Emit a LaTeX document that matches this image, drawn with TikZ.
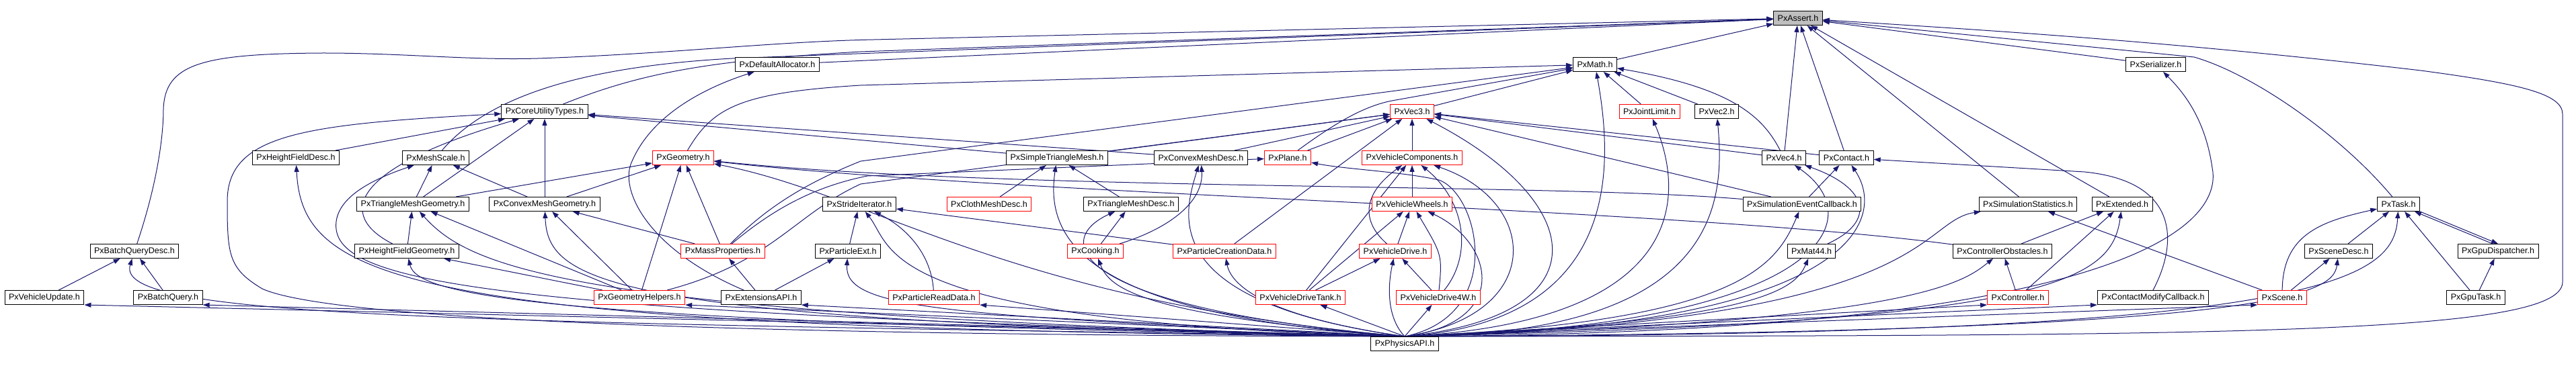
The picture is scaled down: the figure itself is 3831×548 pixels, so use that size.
\documentclass[tikz,border=0pt]{standalone}
\usepackage{fontspec}
\setmainfont{Liberation Sans}
\usetikzlibrary{arrows.meta}
\definecolor{edgec}{RGB}{25,25,112}
\pgfdeclarelayer{back}
\pgfdeclarelayer{bg}
\pgfsetlayers{back,bg,main}
\begin{document}
\begin{tikzpicture}[x=0.75pt,y=-0.75pt,
  hdr/.style={draw=black, fill=white, line width=0.75pt, inner xsep=4.5pt, inner ysep=0pt, minimum height=15.75pt, font=\fontsize{9.4}{11}\selectfont},
  trunc/.style={hdr, draw=red},
  dep/.style={draw=edgec, line width=0.75pt, -{Triangle[length=7.5pt,width=5.25pt]}}]
\begin{pgfonlayer}{back}
\fill[white] (0,0) rectangle (3831,548);
\end{pgfonlayer}
\useasboundingbox (0,0) rectangle (3831,548);
% nodes
\node[hdr,fill=black!25] (A) at (2674,27) {PxAssert.h};
\node[hdr] (DA) at (1156,96) {PxDefaultAllocator.h};
\node[hdr] (M) at (2372,96) {PxMath.h};
\node[hdr] (SER) at (3206,96) {PxSerializer.h};
\node[hdr] (CUT) at (810,166) {PxCoreUtilityTypes.h};
\node[trunc] (V3) at (2100,166) {PxVec3.h};
\node[trunc] (JL) at (2453,166) {PxJointLimit.h};
\node[hdr] (V2) at (2553,166) {PxVec2.h};
\node[hdr] (HFD) at (440,235) {PxHeightFieldDesc.h};
\node[hdr] (MS) at (648,235) {PxMeshScale.h};
\node[trunc] (G) at (1016,235) {PxGeometry.h};
\node[hdr] (STM) at (1572,235) {PxSimpleTriangleMesh.h};
\node[hdr] (CMD) at (1786,235) {PxConvexMeshDesc.h};
\node[trunc] (PL) at (1915,235) {PxPlane.h};
\node[trunc] (VC) at (2100,235) {PxVehicleComponents.h};
\node[hdr] (V4) at (2653,235) {PxVec4.h};
\node[hdr] (CON) at (2746,235) {PxContact.h};
\node[hdr] (TMG) at (614,304) {PxTriangleMeshGeometry.h};
\node[hdr] (CMG) at (810,304) {PxConvexMeshGeometry.h};
\node[hdr] (SI) at (1278,304) {PxStrideIterator.h};
\node[trunc] (CLM) at (1471,304) {PxClothMeshDesc.h};
\node[hdr] (TMD) at (1682,304) {PxTriangleMeshDesc.h};
\node[trunc] (VW) at (2100,304) {PxVehicleWheels.h};
\node[hdr] (SEC) at (2680,304) {PxSimulationEventCallback.h};
\node[hdr] (SS) at (3016,304) {PxSimulationStatistics.h};
\node[hdr] (EXT) at (3156,304) {PxExtended.h};
\node[hdr] (T) at (3567,304) {PxTask.h};
\node[hdr] (BQD) at (200,374) {PxBatchQueryDesc.h};
\node[hdr] (HFG) at (605,374) {PxHeightFieldGeometry.h};
\node[trunc] (MP) at (1075,374) {PxMassProperties.h};
\node[hdr] (PE) at (1261,374) {PxParticleExt.h};
\node[trunc] (COOK) at (1629,374) {PxCooking.h};
\node[trunc] (PCD) at (1821,374) {PxParticleCreationData.h};
\node[trunc] (VD) at (2075,374) {PxVehicleDrive.h};
\node[hdr] (M44) at (2694,374) {PxMat44.h};
\node[hdr] (CO) at (2978,374) {PxControllerObstacles.h};
\node[hdr] (SD) at (3478,374) {PxSceneDesc.h};
\node[hdr] (GD) at (3715,374) {PxGpuDispatcher.h};
\node[hdr] (VU) at (66,443) {PxVehicleUpdate.h};
\node[hdr] (BQ) at (250,443) {PxBatchQuery.h};
\node[trunc] (GH) at (951,443) {PxGeometryHelpers.h};
\node[hdr] (EA) at (1132,443) {PxExtensionsAPI.h};
\node[trunc] (PRD) at (1389,443) {PxParticleReadData.h};
\node[trunc] (VDT) at (1934,443) {PxVehicleDriveTank.h};
\node[trunc] (VD4) at (2139,443) {PxVehicleDrive4W.h};
\node[trunc] (CTRL) at (3001,443) {PxController.h};
\node[hdr] (CMC) at (3202,443) {PxContactModifyCallback.h};
\node[trunc] (SC) at (3394,443) {PxScene.h};
\node[hdr] (GT) at (3682,443) {PxGpuTask.h};
\node[hdr] (P) at (2089,512) {PxPhysicsAPI.h};
\begin{pgfonlayer}{bg}
% ---- edges from PxPhysicsAPI.h
\draw[dep] (P.north) -- (VU.south east);
\draw[dep] (P.north) -- (BQ.south east);
\draw[dep] (P.north) -- (GH.south east);
\draw[dep] (P.north) -- (EA.south east);
\draw[dep] (P.north) -- (PRD.south east);
\draw[dep] (P.north) -- (VDT);
\draw[dep] (P.north) -- (VD4);
\draw[dep] (P.north) -- (CTRL.south west);
\draw[dep] (P.north) -- (CMC.south west);
\draw[dep] (P.north) -- (SC.south west);
\draw[dep] (P.north) .. controls (600,480) and (170,470) .. (BQD);
\draw[dep] (P.north) .. controls (1200,500) and (500,480) .. (390,430) .. controls (340,400) and (338,380) .. (338,300) .. controls (338,200) and (450,185) .. (CUT);
\draw[dep] (P.north) .. controls (600,490) and (450,420) .. (HFD);
\draw[dep] (P.north) .. controls (700,465) and (490,420) .. (500,330) .. controls (505,290) and (560,265) .. (MS);
\draw[dep] (P.north) .. controls (800,480) and (620,440) .. (HFG);
\draw[dep] (P.north) .. controls (850,470) and (700,400) .. (TMG);
\draw[dep] (P.north) .. controls (900,480) and (815,420) .. (CMG);
\draw[dep] (P.north) .. controls (1500,450) and (1300,290) .. (G);
\draw[dep] (P.north) .. controls (1400,470) and (1255,460) .. (PE);
\draw[dep] (P.north) .. controls (1300,480) and (1330,370) .. (SI);
\draw[dep] (P.north) .. controls (1600,470) and (1555,350) .. (STM);
\draw[dep] (P.north) .. controls (1600,460) and (1560,360) .. (TMD);
\draw[dep] (P.north) .. controls (1700,470) and (1650,430) .. (COOK);
\draw[dep] (P.north) .. controls (1720,450) and (1760,320) .. (CMD);
\draw[dep] (P.north) .. controls (1870,470) and (1830,420) .. (PCD);
\draw[dep] (P.north) .. controls (2060,470) and (2065,420) .. (VD);
\draw[dep] (P.north) .. controls (2250,480) and (2220,360) .. (VW);
\draw[dep] (P.north) .. controls (2240,470) and (2200,290) .. (2140,268) .. controls (2080,255) and (2000,252) .. (PL);
\draw[dep] (P.north) .. controls (2300,470) and (2290,300) .. (VC);
\draw[dep] (P.north) .. controls (2390,470) and (2360,300) .. (V3);
\draw[dep] (P.north) .. controls (2410,480) and (2400,250) .. (M);
\draw[dep] (P.north) .. controls (2500,480) and (2510,300) .. (JL);
\draw[dep] (P.north) .. controls (2560,500) and (2565,300) .. (V2);
\draw[dep] (P.north) .. controls (2700,490) and (2790,330) .. (V4);
\draw[dep] (P.north) .. controls (2750,490) and (2810,330) .. (CON);
\draw[dep] (P.north) .. controls (2620,480) and (2670,430) .. (M44);
\draw[dep] (P.north) .. controls (2580,480) and (2640,400) .. (SEC);
\draw[dep] (P.north) .. controls (2880,480) and (2850,330) .. (SS);
\draw[dep] (P.north) .. controls (2850,480) and (2920,420) .. (CO);
\draw[dep] (P.north) .. controls (3050,480) and (3140,420) .. (EXT);
\draw[dep] (P.north) .. controls (3380,495) and (3470,440) .. (SD);
\draw[dep] (P.north) .. controls (3450,500) and (3560,420) .. (T);
\draw[dep] (P.north) .. controls (3280,495) and (3300,300) .. (3290,250) .. controls (3280,180) and (3250,140) .. (SER);
\draw[dep] (P.north) .. controls (3300,500) and (3811,500) .. (3811,420) -- (3811,170) .. controls (3811,140) and (3750,125) .. (3600,105) .. controls (3200,58) and (2900,42) .. (A);
% ---- other edges
\draw[dep] (BQD) .. controls (235,270) and (243,200) .. (243,163) .. controls (245,95) and (300,80) .. (480,79) .. controls (600,79) and (700,90) .. (800,87) .. controls (1000,80) and (1150,62) .. (1300,59) -- (A);
\draw[dep] (VU) -- (BQD);
\draw[dep] (BQ) -- (BQD);
\draw[dep] (HFD) -- (CUT);
\draw[dep] (HFG) .. controls (500,320) and (520,250) .. (CUT);
\draw[dep] (HFG) -- (TMG);
\draw[dep] (TMG) -- (MS);
\draw[dep] (TMG) -- (CUT);
\draw[dep] (TMG) -- (G);
\draw[dep] (CMG) -- (MS);
\draw[dep] (CMG) -- (CUT);
\draw[dep] (CMG) -- (G);
\draw[dep] (MS) .. controls (720,150) and (850,100) .. (1089,87) -- (A);
\draw[dep] (CUT) .. controls (950,110) and (1050,90) .. (1280,77) -- (A);
\draw[dep] (DA) -- (A);
\draw[dep] (M) -- (A);
\draw[dep] (G) .. controls (1060,160) and (1100,138) .. (1280,127) -- (M);
\draw[dep] (GH) -- (TMG);
\draw[dep] (GH) -- (HFG);
\draw[dep] (GH) -- (CMG);
\draw[dep] (GH) -- (G);
\draw[dep] (GH) .. controls (1150,390) and (1180,320) .. (1280,274) -- (V3);
\draw[dep] (MP) -- (CMG);
\draw[dep] (MP) -- (G);
\draw[dep] (MP) .. controls (1130,320) and (1180,280) .. (1280,240) -- (M);
\draw[dep] (MP) .. controls (1140,320) and (1200,280) .. (1290,262) -- (PL);
\draw[dep] (EA) .. controls (960,370) and (920,280) .. (940,240) .. controls (970,170) and (1050,130) .. (DA);
\draw[dep] (EA) -- (MP);
\draw[dep] (EA) -- (PE);
\draw[dep] (PE) -- (SI);
\draw[dep] (PRD) .. controls (1385,380) and (1350,340) .. (SI);
\draw[dep] (PCD) -- (SI);
\draw[dep] (PCD) -- (V3);
\draw[dep] (CLM) -- (STM);
\draw[dep] (TMD) -- (STM);
\draw[dep] (COOK) -- (TMD);
\draw[dep] (COOK) .. controls (1740,340) and (1790,300) .. (CMD);
\draw[dep] (STM) -- (CUT);
\draw[dep] (STM) -- (V3);
\draw[dep] (CMD) -- (CUT);
\draw[dep] (CMD) -- (V3);
\draw[dep] (PL) .. controls (1990,180) and (2030,158) .. (2070,150) -- (M);
\draw[dep] (PL) -- (V3);
\draw[dep] (V3) -- (M);
\draw[dep] (VC) -- (V3);
\draw[dep] (VW) -- (VC);
\draw[dep] (VD) -- (VW);
\draw[dep] (VD) .. controls (2025,330) and (2025,290) .. (VC);
\draw[dep] (VDT) -- (VD);
\draw[dep] (VDT) -- (VW);
\draw[dep] (VDT) -- (VC);
\draw[dep] (VD4) -- (VD);
\draw[dep] (VD4) .. controls (2145,380) .. (VW);
\draw[dep] (VD4) .. controls (2190,380) and (2180,300) .. (VC);
\draw[dep] (JL) -- (M);
\draw[dep] (V2) -- (M);
\draw[dep] (V4) .. controls (2620,170) and (2570,130) .. (M);
\draw[dep] (V4) -- (A);
\draw[dep] (V4) -- (V3);
\draw[dep] (CON) -- (A);
\draw[dep] (CON) -- (V3);
\draw[dep] (M44) .. controls (2790,330) and (2780,280) .. (V4);
\draw[dep] (SEC) -- (CON);
\draw[dep] (SEC) -- (V3);
\draw[dep] (SEC) .. controls (2300,272) and (1500,285) .. (G);
\draw[dep] (CO) .. controls (2500,310) and (1500,290) .. (G);
\draw[dep] (SS) -- (A);
\draw[dep] (EXT) -- (A);
\draw[dep] (CO) -- (EXT);
\draw[dep] (CTRL) -- (CO);
\draw[dep] (CTRL) -- (EXT);
\draw[dep] (CMC.north) .. controls (3240,360) and (3240,270) .. (3100,256) -- (CON);
\draw[dep] (SC) -- (SS);
\draw[dep] (SC) .. controls (3395,350) and (3450,330) .. (T);
\draw[dep] (SC) -- (SD);
\draw[dep] (SD) -- (T);
\draw[dep] (T.south east) -- (GD.north);
\draw[dep] ([xshift=-6pt]GD.north) -- ([xshift=-6pt]T.south east);
\draw[dep] (GT) -- (GD);
\draw[dep] (GT) -- (T);
\draw[dep] (T) .. controls (3480,200) and (3350,110) .. (3263,85) -- (A);
\draw[dep] (SER) -- (A);
\end{pgfonlayer}
\end{tikzpicture}
\end{document}
